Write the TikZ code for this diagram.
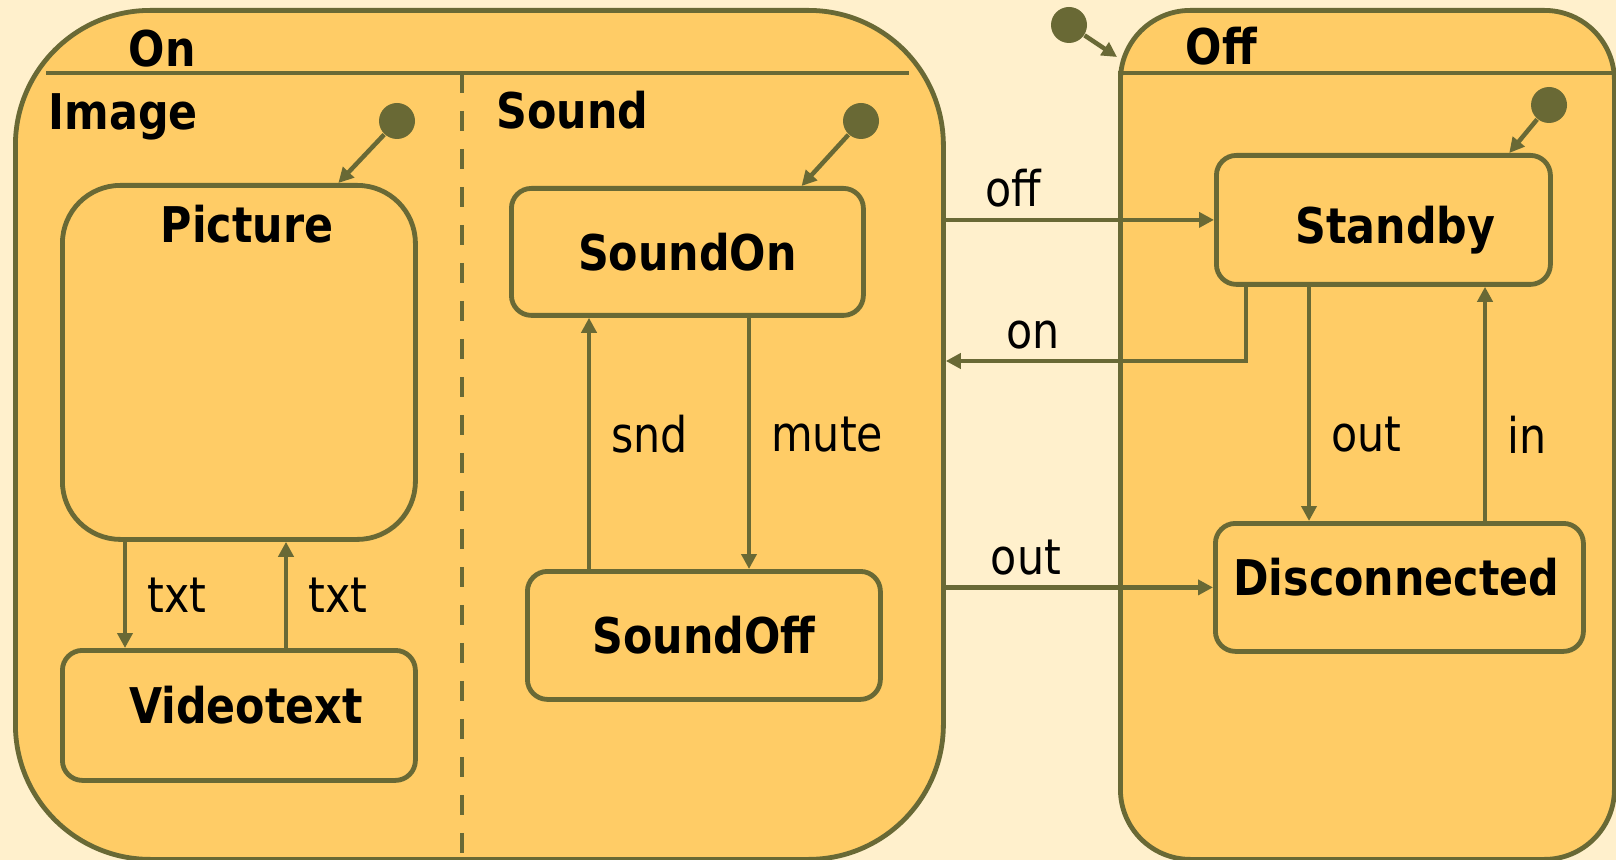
\documentclass[tikz,border=0pt]{standalone}
\usepackage{fontspec}
\setmainfont{DejaVu Sans}[FakeStretch=0.87]
\usetikzlibrary{arrows.meta,calc}

\definecolor{paper}{HTML}{FFF0CC}
\definecolor{statefill}{HTML}{FFCC66}
\definecolor{stateline}{HTML}{696935}

\tikzset{
  every node/.style={font=\fontsize{14}{16}\selectfont},
  superstate/.style={draw=stateline, fill=statefill, line width=0.48mm, rounded corners=#1,
    inner sep=0pt, anchor=north west},
  state/.style={draw=stateline, fill=statefill, line width=0.48mm, rounded corners=2mm,
    inner sep=0pt, anchor=north west, font=\fontsize{14}{16}\selectfont\bfseries},
  title/.style={anchor=base west, inner sep=0pt, font=\fontsize{14}{16}\selectfont\bfseries},
  statename/.style={inner sep=0pt, font=\fontsize{14}{16}\selectfont\bfseries},
  trans/.style={draw=stateline, line width=0.45mm, -{Triangle[length=1.5mm,width=1.5mm]}},
  init/.style={circle, fill=stateline, minimum size=3.6mm, inner sep=0pt},
  region/.style={draw=stateline, line width=0.48mm},
  lbl/.style={inner sep=1mm},
}

\begin{document}
\begin{tikzpicture}[x=0.1mm,y=-0.1mm]

	\fill[paper] (0,0) rectangle (1616,860);
	\useasboundingbox (0,0) rectangle (1616,860);

	% composite states
	\node[superstate=13.5mm, minimum width=92.8mm, minimum height=84.9mm] (on) at (13,8) {};
	\node[superstate=7mm, minimum width=49.4mm, minimum height=84.9mm] (off) at (1118,8) {};
	\node[title] (ontitle) at (128,67) {On};
	\node[title] (offtitle) at (1185,65) {Off};
	\draw[region] (46,73) -- (909,73);
	\draw[region] (off.west |- 0,73) -- (off.east |- 0,73);
	\draw[region, dash pattern=on 2mm off 1.8mm] (462,73) -- (462,857);
	\node[title] (imagetitle) at (48,130) {Image};
	\node[title] (soundtitle) at (496,129) {Sound};

	% Image region
	\node[state, rounded corners=5.8mm, minimum width=35.3mm, minimum height=35.4mm] (picture) at (60,183) {};
	\node[title] (picturename) at (160,243) {Picture};
	\node[state, minimum width=35.3mm, minimum height=13mm,
	  label={[statename, xshift=0.7mm, yshift=1mm]center:Videotext}] (videotext) at (60,648) {};
	\node[init] (imageinit) at (397,121) {};
	\draw[trans] (imageinit) -- (picture.61);

	\coordinate (txtdown) at (125,0);
	\coordinate (txtup) at (286,0);
	\draw[trans] (txtdown |- picture.south) -- node[lbl, right=1mm] {txt} (txtdown |- videotext.north);
	\draw[trans] (txtup |- videotext.north) -- node[lbl, right=1mm] {txt} (txtup |- picture.south);

	% Sound region
	\node[state, minimum width=35.2mm, minimum height=12.7mm] (soundon) at (509,186) {SoundOn};
	\node[state, minimum width=35.3mm, minimum height=12.8mm] (soundoff) at (525,569) {SoundOff};
	\node[init] (soundinit) at (861,121) {};
	\draw[trans] (soundinit) -- (soundon.30);

	\coordinate (sndx) at (589,0);
	\coordinate (mutex) at (749,0);
	\draw[trans] (sndx |- soundoff.north) -- node[lbl, right=1mm, pos=.535] {snd} (sndx |- soundon.south);
	\draw[trans] (mutex |- soundon.south) -- node[lbl, right=1mm, pos=.465] {mute} (mutex |- soundoff.north);

	% Off states
	\node[state, minimum width=33.4mm, minimum height=12.9mm,
	  label={[statename, xshift=1.2mm, yshift=-1mm]center:Standby}] (standby) at (1214,153) {};
	\node[state, minimum width=36.8mm, minimum height=12.8mm,
	  label={[statename, xshift=-0.3mm, yshift=1mm]center:Disconnected}] (disconnected) at (1213,521) {};
	\node[init] (standbyinit) at (1549,105) {};
	\draw[trans] (standbyinit) -- (standby.28);
	\node[init] (offinit) at (1069,25) {};
	\coordinate (offentry) at (1117,57);
	\draw[trans] (offinit) -- (offentry);

	\coordinate (outx) at (1309,0);
	\coordinate (inx) at (1485,0);
	\draw[trans] (outx |- standby.south) -- node[lbl, right=1mm, pos=.63] {out} (outx |- disconnected.north);
	\draw[trans] (inx |- disconnected.north) -- node[lbl, right=1mm, pos=.37] {in} (inx |- standby.south);

	% transitions between On and Off
	\draw[trans] (standby.west -| on.east) -- node[lbl, above, pos=.25] {off} (standby.west);
	\coordinate (onturn) at (1246,361);
	\draw[trans] (onturn |- standby.south) -- (onturn) -- node[lbl, above, pos=.71] {on} (onturn -| on.east);
	\draw[trans] (disconnected.west -| on.east) -- node[lbl, above, pos=.3] {out} (disconnected.west);

\end{tikzpicture}
\end{document}
